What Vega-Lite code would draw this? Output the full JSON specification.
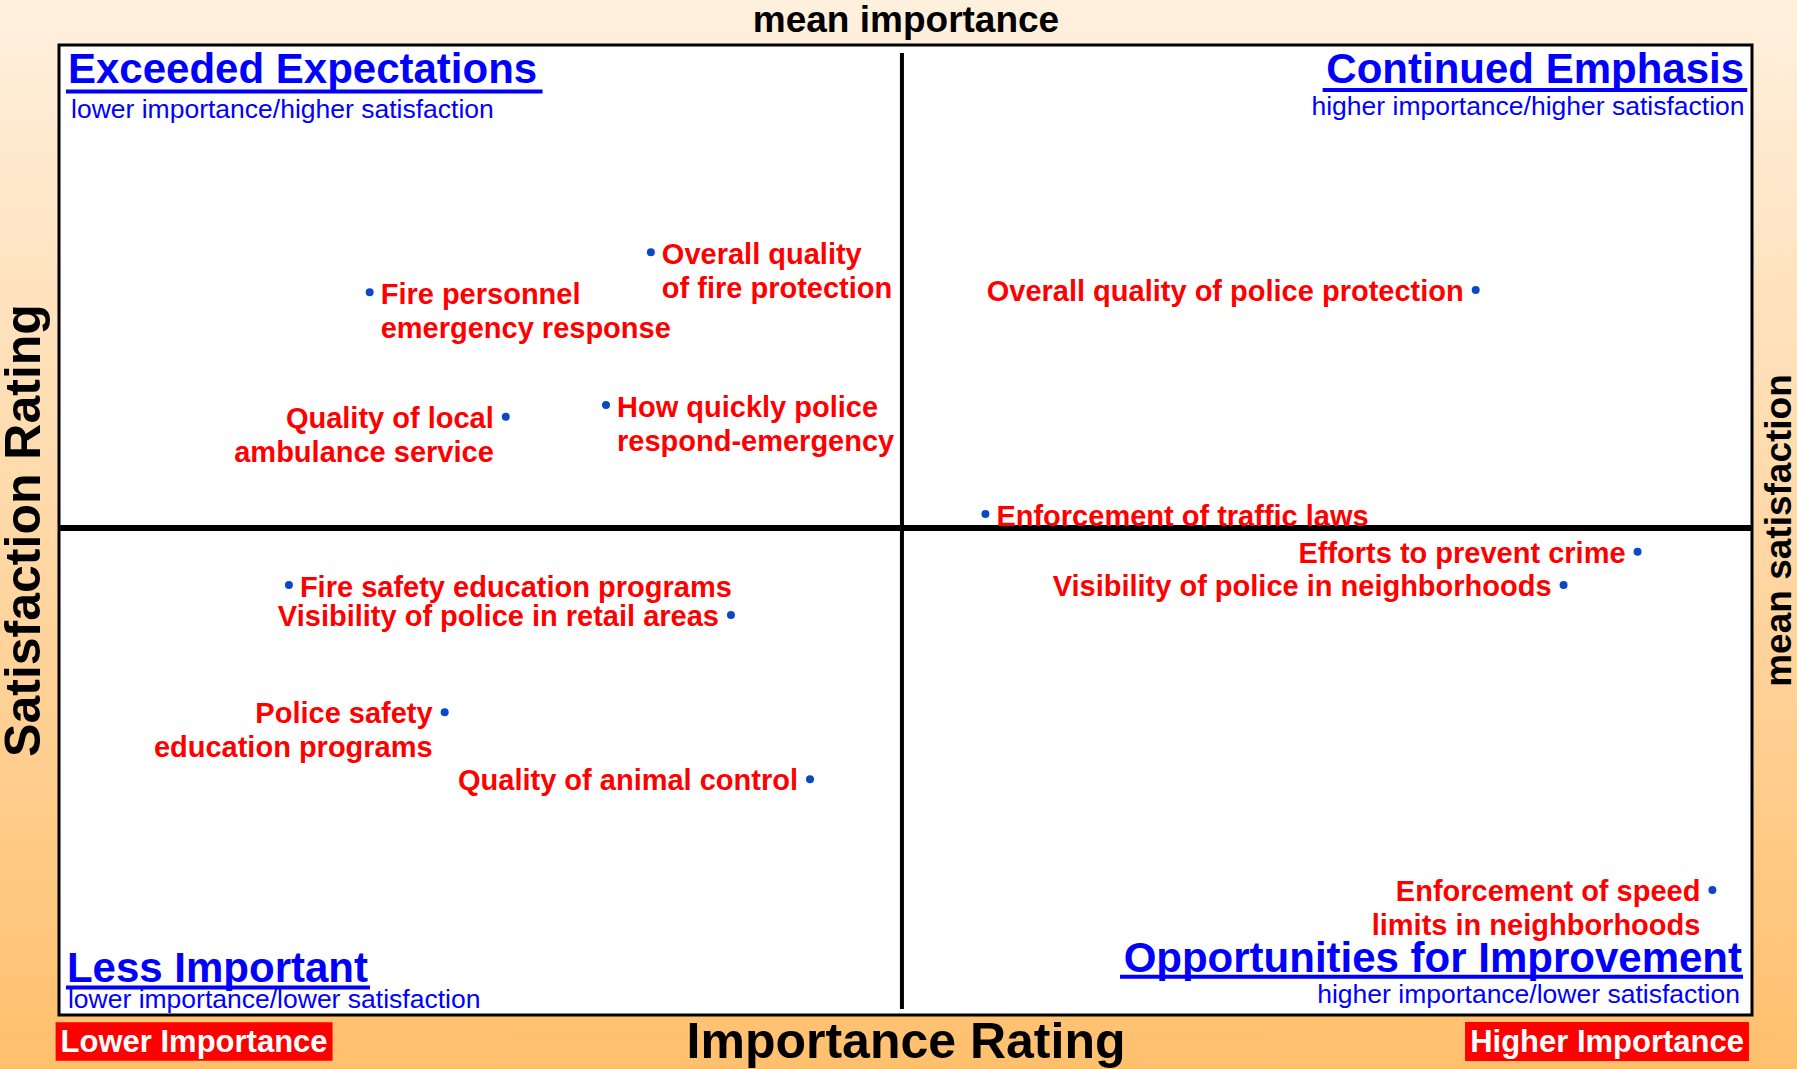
{
  "$schema": "https://vega.github.io/schema/vega-lite/v6.json",
  "width": 1693,
  "height": 970,
  "autosize": {"type": "none"},
  "padding": {"left": 59, "top": 45, "right": 45, "bottom": 54},
  "background": "#FFD9A8",
  "datasets": {
    "services": [
      {"service": "Overall quality\nof fire protection", "importance": 34.96, "satisfaction": 78.63, "side": "right"},
      {"service": "Fire personnel\nemergency response", "importance": 18.35, "satisfaction": 74.51, "side": "right"},
      {"service": "Quality of local\nambulance service", "importance": 26.39, "satisfaction": 61.68, "side": "left"},
      {"service": "How quickly police\nrespond-emergency", "importance": 32.31, "satisfaction": 62.89, "side": "right"},
      {"service": "Overall quality of police protection", "importance": 83.68, "satisfaction": 74.74, "side": "left"},
      {"service": "Enforcement of traffic laws", "importance": 54.72, "satisfaction": 51.65, "side": "right"},
      {"service": "Efforts to prevent crime", "importance": 93.24, "satisfaction": 47.76, "side": "left"},
      {"service": "Visibility of police in neighborhoods", "importance": 88.87, "satisfaction": 44.33, "side": "left"},
      {"service": "Fire safety education programs", "importance": 13.58, "satisfaction": 44.33, "side": "right"},
      {"service": "Visibility of police in retail areas", "importance": 39.69, "satisfaction": 41.24, "side": "left"},
      {"service": "Police safety\neducation programs", "importance": 22.78, "satisfaction": 31.21, "side": "left"},
      {"service": "Quality of animal control", "importance": 44.36, "satisfaction": 24.30, "side": "left"},
      {"service": "Enforcement of speed\nlimits in neighborhoods", "importance": 97.66, "satisfaction": 12.89, "side": "left"}
    ],
    "means": [{"meanImportance": 49.79, "meanSatisfaction": 50.21}],
    "one": [{}]
  },
  "layer": [
    {
      "data": {"name": "one"},
      "mark": {"type": "rect", "fill": {"gradient": "linear", "x1": 0, "y1": 0, "x2": 0, "y2": 1, "stops": [{"offset": 0, "color": "#FFF0DE"}, {"offset": 1, "color": "#FFC06E"}]}},
      "encoding": {
        "x": {"datum": -3.49, "type": "quantitative", "scale": {"domain": [0, 100], "nice": false, "zero": false}, "axis": null},
        "x2": {"datum": 102.67},
        "y": {"datum": 104.65, "type": "quantitative", "scale": {"domain": [0, 100], "nice": false, "zero": false}, "axis": null},
        "y2": {"datum": -5.57}
      }
    },
    {
      "data": {"name": "one"},
      "mark": {"type": "rect", "fill": "white", "stroke": "black", "strokeWidth": 3},
      "encoding": {
        "x": {"datum": 0, "type": "quantitative", "axis": null},
        "x2": {"datum": 100},
        "y": {"datum": 0, "type": "quantitative", "axis": null},
        "y2": {"datum": 100}
      }
    },
    {
      "data": {"name": "means"},
      "mark": {"type": "rule", "color": "black", "strokeWidth": 4},
      "encoding": {
        "x": {"field": "meanImportance", "type": "quantitative", "axis": {"orient": "top", "title": "mean importance", "titleFontSize": 37, "titlePadding": 14, "titleBaseline": "alphabetic", "zindex": 2}},
        "y": {"datum": 0.62, "type": "quantitative", "axis": null},
        "y2": {"datum": 99.18}
      }
    },
    {
      "data": {"name": "means"},
      "mark": {"type": "rule", "color": "black", "strokeWidth": 6},
      "encoding": {
        "y": {"field": "meanSatisfaction", "type": "quantitative", "axis": {"orient": "right", "title": "mean satisfaction", "titleFontSize": 37, "titleAngle": 270, "titlePadding": 38, "titleBaseline": "alphabetic", "zindex": 2}},
        "x": {"datum": 0, "type": "quantitative", "axis": null},
        "x2": {"datum": 100}
      }
    },
    {
      "data": {"name": "services"},
      "mark": {"type": "point", "shape": "circle", "filled": true, "opacity": 1, "size": 64, "color": "#0B49C4"},
      "encoding": {
        "x": {"field": "importance", "type": "quantitative", "scale": {"domain": [0, 100], "nice": false, "zero": false}, "axis": {"orient": "bottom", "title": "Importance Rating", "titleFontSize": 50, "titlePadding": 42, "titleBaseline": "alphabetic", "zindex": 2}},
        "y": {"field": "satisfaction", "type": "quantitative", "scale": {"domain": [0, 100], "nice": false, "zero": false}, "axis": {"orient": "left", "title": "Satisfaction Rating", "titleFontSize": 50, "titleAngle": 270, "titlePadding": 20, "titleBaseline": "alphabetic", "zindex": 2}}
      }
    },
    {
      "data": {"name": "services"},
      "transform": [{"filter": "datum.side === 'right'"}],
      "mark": {"type": "text", "align": "left", "baseline": "alphabetic", "dx": 11, "dy": 12, "fontSize": 29, "fontWeight": "bold", "color": "#FF0000", "lineBreak": "\n", "lineHeight": 34},
      "encoding": {
        "x": {"field": "importance", "type": "quantitative", "axis": null},
        "y": {"field": "satisfaction", "type": "quantitative", "axis": null},
        "text": {"field": "service"}
      }
    },
    {
      "data": {"name": "services"},
      "transform": [{"filter": "datum.side === 'left'"}],
      "mark": {"type": "text", "align": "right", "baseline": "alphabetic", "dx": -12, "dy": 11, "fontSize": 29, "fontWeight": "bold", "color": "#FF0000", "lineBreak": "\n", "lineHeight": 34},
      "encoding": {
        "x": {"field": "importance", "type": "quantitative", "axis": null},
        "y": {"field": "satisfaction", "type": "quantitative", "axis": null},
        "text": {"field": "service"}
      }
    },
    {
      "data": {"name": "one"},
      "mark": {"type": "text", "text": "Exceeded Expectations", "align": "left", "baseline": "alphabetic", "fontSize": 42, "fontWeight": "bold", "color": "#0000FF"},
      "encoding": {"x": {"datum": 0.53, "type": "quantitative", "axis": null}, "y": {"datum": 96.05, "type": "quantitative", "axis": null}}
    },
    {
      "data": {"name": "one"},
      "mark": {"type": "text", "text": "Continued Emphasis", "align": "right", "baseline": "alphabetic", "fontSize": 42, "fontWeight": "bold", "color": "#0000FF"},
      "encoding": {"x": {"datum": 99.53, "type": "quantitative", "axis": null}, "y": {"datum": 96.05, "type": "quantitative", "axis": null}}
    },
    {
      "data": {"name": "one"},
      "mark": {"type": "text", "text": "Less Important", "align": "left", "baseline": "alphabetic", "fontSize": 42, "fontWeight": "bold", "color": "#0000FF"},
      "encoding": {"x": {"datum": 0.47, "type": "quantitative", "axis": null}, "y": {"datum": 3.43, "type": "quantitative", "axis": null}}
    },
    {
      "data": {"name": "one"},
      "mark": {"type": "text", "text": "Opportunities for Improvement", "align": "right", "baseline": "alphabetic", "fontSize": 42, "fontWeight": "bold", "color": "#0000FF"},
      "encoding": {"x": {"datum": 99.41, "type": "quantitative", "axis": null}, "y": {"datum": 4.46, "type": "quantitative", "axis": null}}
    },
    {
      "data": {"name": "one"},
      "mark": {"type": "text", "text": "lower importance/higher satisfaction", "align": "left", "baseline": "alphabetic", "fontSize": 26.5, "color": "#0000FF"},
      "encoding": {"x": {"datum": 0.71, "type": "quantitative", "axis": null}, "y": {"datum": 92.44, "type": "quantitative", "axis": null}}
    },
    {
      "data": {"name": "one"},
      "mark": {"type": "text", "text": "higher importance/higher satisfaction", "align": "right", "baseline": "alphabetic", "fontSize": 26.5, "color": "#0000FF"},
      "encoding": {"x": {"datum": 99.56, "type": "quantitative", "axis": null}, "y": {"datum": 92.78, "type": "quantitative", "axis": null}}
    },
    {
      "data": {"name": "one"},
      "mark": {"type": "text", "text": "lower importance/lower satisfaction", "align": "left", "baseline": "alphabetic", "fontSize": 26.5, "color": "#0000FF"},
      "encoding": {"x": {"datum": 0.53, "type": "quantitative", "axis": null}, "y": {"datum": 0.69, "type": "quantitative", "axis": null}}
    },
    {
      "data": {"name": "one"},
      "mark": {"type": "text", "text": "higher importance/lower satisfaction", "align": "right", "baseline": "alphabetic", "fontSize": 26.5, "color": "#0000FF"},
      "encoding": {"x": {"datum": 99.29, "type": "quantitative", "axis": null}, "y": {"datum": 1.24, "type": "quantitative", "axis": null}}
    },
    {
      "data": {"name": "one"},
      "mark": {"type": "rule", "color": "#0000FF", "strokeWidth": 4},
      "encoding": {"x": {"datum": 0.41, "type": "quantitative", "axis": null}, "x2": {"datum": 28.56}, "y": {"datum": 95.21, "type": "quantitative", "axis": null}}
    },
    {
      "data": {"name": "one"},
      "mark": {"type": "rule", "color": "#0000FF", "strokeWidth": 4},
      "encoding": {"x": {"datum": 74.64, "type": "quantitative", "axis": null}, "x2": {"datum": 99.72}, "y": {"datum": 95.36, "type": "quantitative", "axis": null}}
    },
    {
      "data": {"name": "one"},
      "mark": {"type": "rule", "color": "#0000FF", "strokeWidth": 4},
      "encoding": {"x": {"datum": 0.41, "type": "quantitative", "axis": null}, "x2": {"datum": 18.37}, "y": {"datum": 2.84, "type": "quantitative", "axis": null}}
    },
    {
      "data": {"name": "one"},
      "mark": {"type": "rule", "color": "#0000FF", "strokeWidth": 4},
      "encoding": {"x": {"datum": 62.67, "type": "quantitative", "axis": null}, "x2": {"datum": 99.47}, "y": {"datum": 3.95, "type": "quantitative", "axis": null}}
    },
    {
      "data": {"name": "one"},
      "mark": {"type": "rect", "fill": "#FF0000"},
      "encoding": {"x": {"datum": -0.2, "type": "quantitative", "axis": null}, "x2": {"datum": 16.16}, "y": {"datum": -0.75, "type": "quantitative", "axis": null}, "y2": {"datum": -4.71}}
    },
    {
      "data": {"name": "one"},
      "mark": {"type": "rect", "fill": "#FF0000"},
      "encoding": {"x": {"datum": 83.05, "type": "quantitative", "axis": null}, "x2": {"datum": 99.82}, "y": {"datum": -0.72, "type": "quantitative", "axis": null}, "y2": {"datum": -4.74}}
    },
    {
      "data": {"name": "one"},
      "mark": {"type": "text", "text": "Lower Importance", "align": "center", "baseline": "alphabetic", "fontSize": 31, "fontWeight": "bold", "color": "white"},
      "encoding": {"x": {"datum": 7.98, "type": "quantitative", "axis": null}, "y": {"datum": -3.85, "type": "quantitative", "axis": null}}
    },
    {
      "data": {"name": "one"},
      "mark": {"type": "text", "text": "Higher Importance", "align": "center", "baseline": "alphabetic", "fontSize": 31, "fontWeight": "bold", "color": "white"},
      "encoding": {"x": {"datum": 91.44, "type": "quantitative", "axis": null}, "y": {"datum": -3.85, "type": "quantitative", "axis": null}}
    }
  ],
  "resolve": {"axis": {"x": "independent", "y": "independent"}},
  "config": {
    "font": "Liberation Sans",
    "view": {"stroke": null},
    "axis": {"domain": false, "ticks": false, "labels": false, "grid": false, "titleFont": "Liberation Sans", "titleFontWeight": "bold", "titleColor": "black"}
  }
}
